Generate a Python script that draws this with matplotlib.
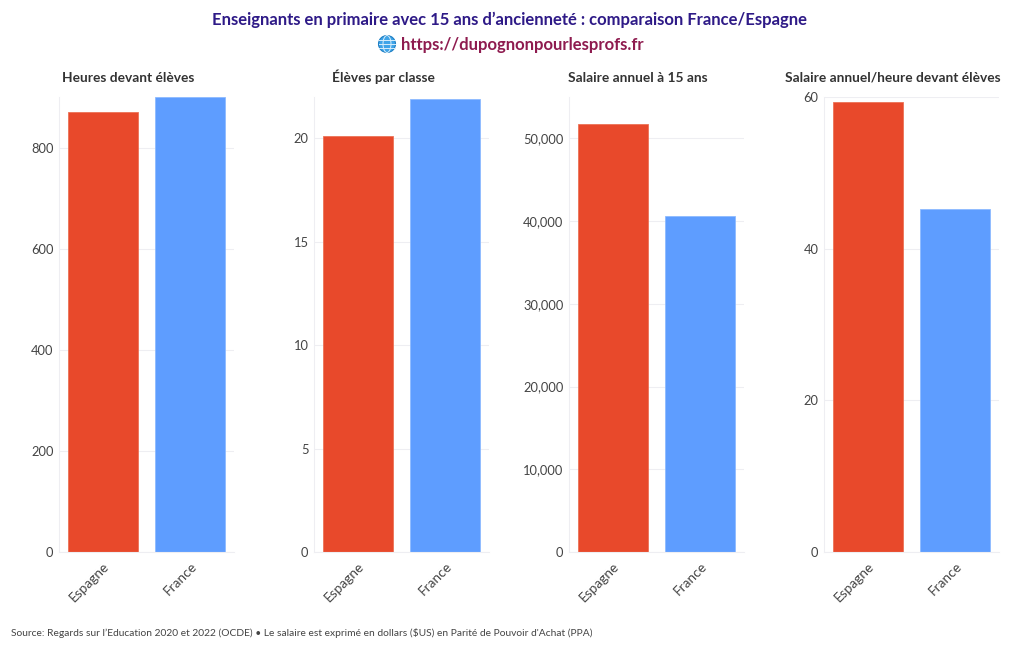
import matplotlib
matplotlib.use("Agg")
import matplotlib.pyplot as plt
from matplotlib.patches import Circle, Ellipse
from matplotlib.ticker import FuncFormatter

plt.rcParams["font.family"] = ["Lato", "DejaVu Sans"]

W, H = 1020, 650

countries = ["Espagne", "France"]
heures = [871, 900]
eleves = [20.1, 21.9]
salaire = [51750, 40650]
salaire_heure = [59.4, 45.2]

panel_titles = ["Heures devant élèves", "Élèves par classe",
                "Salaire annuel à 15 ans", "Salaire annuel/heure devant élèves"]
panel_values = [heures, eleves, salaire, salaire_heure]
panel_ticks = [[0, 200, 400, 600, 800], [0, 5, 10, 15, 20],
               [0, 10000, 20000, 30000, 40000, 50000], [0, 20, 40, 60]]
panel_ymax = [900, 22, 55000, 60]
panel_left = [59, 314, 569, 824]
title_x = [128, 383, 638, 893]

RED = "#E8492B"
BLUE = "#5E9DFF"
GRID = "#EEEEF2"
TICK = "#444444"

fig = plt.figure(figsize=(W / 100, H / 100), dpi=100)

for i in range(4):
    ax = fig.add_axes([panel_left[i] / W, 1 - 552 / H, 175 / W, 455 / H])
    ax.bar(countries, panel_values[i], width=0.8, color=[RED, BLUE],
           edgecolor=["#EC7257", "#8DBBFF"], linewidth=0.6, zorder=2)
    ax.set_xlim(-0.5, 1.5)
    ax.set_ylim(0, panel_ymax[i])
    ax.set_yticks(panel_ticks[i])
    ax.yaxis.set_major_formatter(FuncFormatter(lambda v, _: f"{int(v):,}"))
    ax.grid(True, axis="y", color=GRID, lw=0.8, zorder=0)
    for s in ["top", "right"]:
        ax.spines[s].set_visible(False)
    for s in ["left", "bottom"]:
        ax.spines[s].set_color(GRID)
        ax.spines[s].set_linewidth(0.8)
    ax.tick_params(axis="y", length=0, pad=4, labelsize=9.3, labelcolor=TICK)
    ax.tick_params(axis="x", length=0, pad=6, labelsize=9.8, labelcolor=TICK)
    for lab in ax.get_xticklabels():
        lab.set_rotation(45)
        lab.set_ha("right")
        lab.set_rotation_mode("anchor")
    fig.text(title_x[i] / W, 1 - 82 / H, panel_titles[i], ha="center", va="baseline",
             fontsize=9.9, fontweight="bold", color="#333333")

fig.text(510 / W, 1 - 20 / H,
         "Enseignants en primaire avec 15 ans d’ancienneté : comparaison France/Espagne",
         ha="center", va="center", fontsize=12, fontweight="bold", color="#2E1A87")
fig.text(522 / W, 1 - 45 / H, "https://dupognonpourlesprofs.fr", ha="center", va="center",
         fontsize=12, fontweight="bold", color="#8E1B4F")

# globe icon, no emoji font here
icon = fig.add_axes([377 / W, 1 - 54 / H, 20 / W, 20 / H])
icon.set_xlim(-1, 1)
icon.set_ylim(-1, 1)
icon.axis("off")
icon.add_patch(Circle((0, 0), 0.85, fc="#3FA4E8", ec="#1F7FC4", lw=0.8))
icon.add_patch(Ellipse((0, 0), 0.8, 1.7, fc="none", ec="#D8EEFB", lw=0.7))
for y in [-0.4, 0, 0.4]:
    icon.plot([-0.8, 0.8], [y, y], color="#D8EEFB", lw=0.7)

fig.text(11 / W, 1 - 633 / H,
         "Source: Regards sur l’Education 2020 et 2022 (OCDE) • Le salaire est exprimé en dollars ($US) en Parité de Pouvoir d'Achat (PPA)",
         ha="left", va="center", fontsize=7.4, color="#444444")

fig.savefig("out.png", dpi=100)
